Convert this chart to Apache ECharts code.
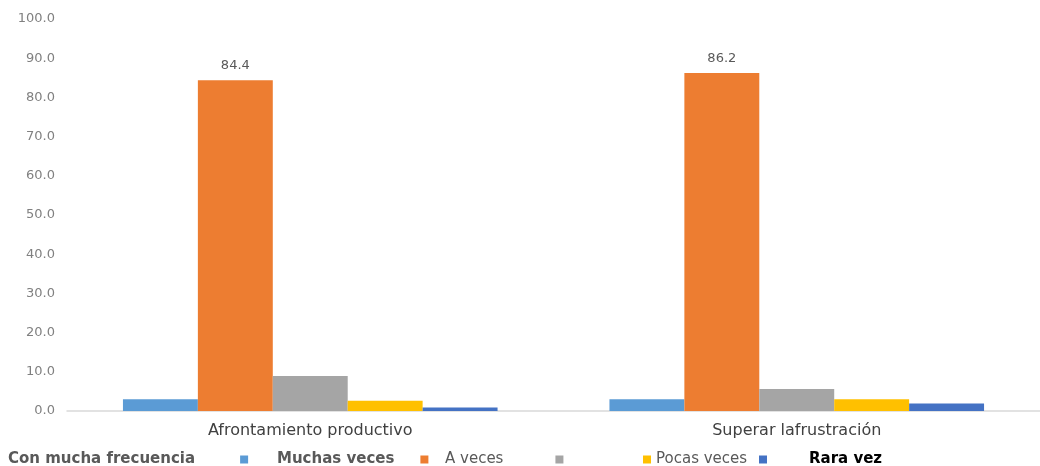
<!DOCTYPE html>
<html>
<head>
<meta charset="utf-8">
<script src="https://cdn.jsdelivr.net/npm/echarts@6/dist/echarts.min.js"></script>
<style>html,body{margin:0;padding:0;background:#fff}#c{width:1040px;height:466px}</style>
</head>
<body>
<div id="c"></div>
<script>
const categories = ['Afrontamiento productivo', 'Superar lafrustración'];
const seriesNames = ['Con mucha frecuencia', 'Muchas veces', 'A veces', 'Pocas veces', 'Rara vez'];
const conMuchaFrecuencia = [3.0, 3.0];
const muchasVeces = [84.4, 86.2];
const aVeces = [8.9, 5.6];
const pocasVeces = [2.6, 3.0];
const raraVez = [0.9, 1.9];
const yTicks = [0, 10, 20, 30, 40, 50, 60, 70, 80, 90, 100];

const colors = ['#5B9BD5', '#ED7D31', '#A5A5A5', '#FFC000', '#4472C4'];
const values = [conMuchaFrecuencia, muchasVeces, aVeces, pocasVeces, raraVez];

const chart = echarts.init(document.getElementById('c'));
const font = 'DejaVu Sans';
function lg(name, left, align, ts) {
  return {
    data: [name], left: left, top: 447, align: align, itemWidth: 8, itemHeight: 8,
    icon: 'rect', selectedMode: false,
    textStyle: Object.assign({fontFamily: font, fontSize: 15, color: '#595959'}, ts)
  };
}
chart.setOption({
  animation: false,
  color: colors,
  grid: {left: 67, right: 0, top: 19, bottom: 55},
  legend: [
    lg(seriesNames[0], 3, 'right', {fontWeight: 'bold', padding: [0, 40, 0, 0]}),
    lg(seriesNames[1], 272, 'right', {fontWeight: 'bold', padding: [0, 21, 0, 0]}),
    lg(seriesNames[2], 440, 'right', {padding: [0, 47, 0, 0]}),
    lg(seriesNames[3], 638, 'left', {padding: [0, 0, 0, 0]}),
    lg(seriesNames[4], 754, 'left', {fontWeight: 'bold', color: '#000', padding: [0, 0, 0, 37]})
  ],
  xAxis: {
    type: 'category', data: categories,
    axisLine: {lineStyle: {color: '#D9D9D9', width: 1.5}},
    axisTick: {show: false},
    axisLabel: {fontFamily: font, fontSize: 16, color: '#404040', margin: 12}
  },
  yAxis: {
    type: 'value', min: 0, max: 100, interval: 10,
    axisLine: {show: false}, axisTick: {show: false}, splitLine: {show: false},
    axisLabel: {fontFamily: font, fontSize: 13, color: '#808080', margin: 12,
      formatter: v => v.toFixed(1)}
  },
  series: seriesNames.map((n, i) => ({
    name: n, type: 'bar', data: values[i],
    barGap: '0%', barCategoryGap: '23%',
    label: i === 1 ? {show: true, position: 'top', distance: 8, fontFamily: font, fontSize: 13,
      color: '#595959', formatter: p => p.value.toFixed(1)} : {show: false}
  }))
});
</script>
</body>
</html>
